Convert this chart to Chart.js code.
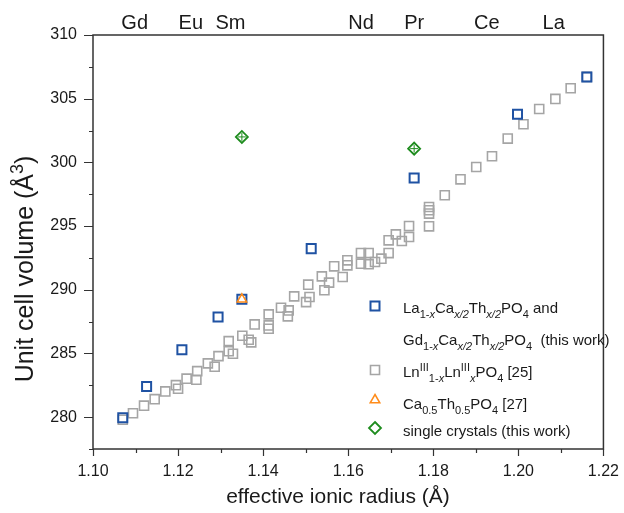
<!DOCTYPE html>
<html>
<head>
<meta charset="utf-8">
<script src="https://cdn.jsdelivr.net/npm/chart.js@4.4.0/dist/chart.umd.min.js"></script>
<style>
  html, body { margin: 0; padding: 0; background: #fff; }
</style>
</head>
<body>
<canvas id="chart" width="624" height="513"></canvas>
<script>
// ---------- Data ----------
// La(1-x)Ca(x/2)Th(x/2)PO4 and Gd(1-x)Ca(x/2)Th(x/2)PO4 (this work)
const blueR = [1.107, 1.1126, 1.1209, 1.1294, 1.135, 1.1513, 1.1755, 1.1998, 1.2161];
const blueV = [279.95, 282.41, 285.29, 287.86, 289.25, 293.23, 298.77, 303.78, 306.71];

// Ln(III)1-x Ln(III)x PO4 [25]
const grayR = [1.107, 1.1094, 1.1120, 1.1145, 1.1170, 1.1195, 1.1200, 1.1220, 1.1243, 1.1245,
  1.1270, 1.1286, 1.1295, 1.1319, 1.1319, 1.1329, 1.1351, 1.1366, 1.1372, 1.1380,
  1.1413, 1.1413, 1.1413, 1.1442, 1.1460, 1.1458, 1.1473, 1.1506, 1.1509, 1.1501,
  1.1538, 1.1555, 1.1544, 1.1567, 1.1587, 1.1598, 1.1598, 1.1630, 1.1630, 1.1648,
  1.1648, 1.1663, 1.1678, 1.1695, 1.1695, 1.1712, 1.1726, 1.1743, 1.1743, 1.1790,
  1.1790, 1.1790, 1.1790, 1.1827, 1.1864, 1.1901, 1.1938, 1.1975, 1.2012, 1.2049,
  1.2087, 1.2123, 1.2161];
const grayV = [279.8, 280.31, 280.9, 281.41, 282.02, 282.51, 282.23, 283.02, 282.94, 283.61,
  284.22, 283.96, 284.79, 285.97, 285.18, 284.98, 286.39, 286.08, 285.87, 287.28,
  288.07, 287.20, 286.94, 288.59, 288.38, 287.91, 289.48, 290.40, 289.43, 289.03,
  291.05, 290.56, 289.96, 291.84, 291.0, 292.31, 291.92, 292.88, 292.05, 292.88,
  292.0, 292.18, 292.44, 292.88, 293.88, 294.35, 293.83, 294.14, 295.0, 294.98,
  295.98, 296.24, 296.5, 297.42, 298.67, 299.64, 300.48, 301.87, 302.99, 304.19,
  304.98, 305.82, 306.71];

// Ca0.5Th0.5PO4 [27]
const orangeR = [1.135];
const orangeV = [289.25];

// single crystals (this work)
const greenR = [1.135, 1.1755];
const greenV = [302.0, 301.08];

// element labels along the top
const elementNames = ['Gd', 'Eu', 'Sm', 'Nd', 'Pr', 'Ce', 'La'];
const elementPos = [1.1098, 1.1230, 1.1323, 1.1630, 1.1755, 1.1926, 1.2083];

// ---------- Style ----------
const FONT = '"Liberation Sans", Arial, sans-serif';
const AXIS = '#333';
const BLUE = '#1f52a3';
const GRAY = '#a5a5a5';
const ORANGE = '#ff8c1a';
const GREEN = '#1e8c1e';

const pts = (xs, ys) => xs.map((x, i) => ({ x, y: ys[i] }));

// ---------- Rich text (sub / superscripts) ----------
function setFont(ctx, size, italic) {
  ctx.font = (italic ? 'italic ' : '') + size + 'px ' + FONT;
}
function richWidth(ctx, parts, size) {
  let w = 0;
  for (const p of parts) {
    setFont(ctx, p.s === 'n' ? size : Math.round(size * 0.7), p.i);
    w += ctx.measureText(p.t).width;
  }
  return w;
}
function drawRich(ctx, parts, x, y, size) {
  ctx.textBaseline = 'alphabetic';
  ctx.textAlign = 'left';
  for (const p of parts) {
    const small = p.s !== 'n';
    setFont(ctx, small ? Math.round(size * 0.7) : size, p.i);
    let dy = 0;
    if (p.s === 'sub') dy = size * 0.3;
    if (p.s === 'sup') dy = -size * 0.42;
    ctx.fillText(p.t, x, y + dy);
    x += ctx.measureText(p.t).width;
  }
}
const N = t => ({ t, s: 'n' });
const SB = (t, i) => ({ t, s: 'sub', i: !!i });
const SP = t => ({ t, s: 'sup' });

const legendRows = [
  { marker: 'blue', my: 306, by: 313,
    parts: [N('La'), SB('1-'), SB('x', 1), N('Ca'), SB('x/2', 1), N('Th'), SB('x/2', 1), N('PO'), SB('4'), N(' and')] },
  { marker: null, my: 338, by: 345,
    parts: [N('Gd'), SB('1-'), SB('x', 1), N('Ca'), SB('x/2', 1), N('Th'), SB('x/2', 1), N('PO'), SB('4'), N('  (this work)')] },
  { marker: 'gray', my: 370, by: 377,
    parts: [N('Ln'), SP('III'), SB('1-'), SB('x', 1), N('Ln'), SP('III'), SB('x', 1), N('PO'), SB('4'), N(' [25]')] },
  { marker: 'orange', my: 400, by: 409,
    parts: [N('Ca'), SB('0.5'), N('Th'), SB('0.5'), N('PO'), SB('4'), N(' [27]')] },
  { marker: 'green', my: 428, by: 436,
    parts: [N('single crystals (this work)')] }
];

function drawMarker(ctx, kind, x, y) {
  ctx.save();
  ctx.beginPath();
  if (kind === 'blue' || kind === 'gray') {
    ctx.strokeStyle = kind === 'blue' ? BLUE : GRAY;
    ctx.lineWidth = kind === 'blue' ? 2 : 1.6;
    ctx.rect(x - 4.5, y - 4.5, 9, 9);
  } else if (kind === 'orange') {
    ctx.strokeStyle = ORANGE;
    ctx.lineWidth = 1.5;
    ctx.moveTo(x, y - 5.5);
    ctx.lineTo(x + 4.8, y + 2.8);
    ctx.lineTo(x - 4.8, y + 2.8);
    ctx.closePath();
  } else if (kind === 'green') {
    ctx.strokeStyle = GREEN;
    ctx.lineWidth = 1.8;
    ctx.moveTo(x, y - 6);
    ctx.lineTo(x + 6, y);
    ctx.lineTo(x, y + 6);
    ctx.lineTo(x - 6, y);
    ctx.closePath();
  }
  ctx.stroke();
  ctx.restore();
}

// ---------- Plugin: frame, ticks, titles, legend ----------
const decorations = {
  id: 'decorations',
  afterDraw(chart) {
    const { ctx, chartArea: a, scales: { x, y } } = chart;
    ctx.save();
    ctx.strokeStyle = AXIS;
    ctx.lineWidth = 1.5;
    ctx.strokeRect(a.left, a.top, a.right - a.left, a.bottom - a.top);

    // tick marks (outside, bottom and left)
    ctx.lineWidth = 1.2;
    ctx.beginPath();
    for (let k = 0; k <= 12; k++) {
      const px = Math.round(x.getPixelForValue(1.10 + k * 0.01)) + 0.5;
      const len = k % 2 === 0 ? 7 : 4;
      ctx.moveTo(px, a.bottom);
      ctx.lineTo(px, a.bottom + len);
    }
    for (let k = 0; k <= 13; k++) {
      const py = Math.round(y.getPixelForValue(277.5 + k * 2.5)) + 0.5;
      const len = k % 2 === 1 ? 9 : 4;
      ctx.moveTo(a.left, py);
      ctx.lineTo(a.left - len, py);
    }
    ctx.stroke();

    ctx.fillStyle = '#1a1a1a';

    // element labels along the top
    ctx.font = '20px ' + FONT;
    ctx.textAlign = 'center';
    ctx.textBaseline = 'middle';
    elementNames.forEach((n, i) => {
      ctx.fillText(n, x.getPixelForValue(elementPos[i]), 23);
    });

    // x title
    ctx.font = '21px ' + FONT;
    ctx.textAlign = 'center';
    ctx.textBaseline = 'middle';
    ctx.fillText('effective ionic radius (Å)', 338, 497);

    // y title (rotated, with superscript)
    const ySize = 25;
    const yParts = [N('Unit cell volume (Å'), SP('3'), N(')')];
    const yw = richWidth(ctx, yParts, ySize);
    ctx.save();
    ctx.translate(33, 269);
    ctx.rotate(-Math.PI / 2);
    drawRich(ctx, yParts, -yw / 2, 0, ySize);
    ctx.restore();

    // legend
    ctx.fillStyle = '#1a1a1a';
    legendRows.forEach(r => {
      if (r.marker) drawMarker(ctx, r.marker, 375, r.my);
      drawRich(ctx, r.parts, 403, r.by, 15);
    });
    ctx.restore();
  }
};

// ---------- Chart ----------
const ctx = document.getElementById('chart').getContext('2d');
const chart = new Chart(ctx, {
  type: 'scatter',
  data: {
    datasets: [
      {
        label: 'single crystals (this work)',
        data: pts(greenR, greenV),
        pointStyle: 'cross', pointRadius: 4, borderWidth: 1,
        borderColor: GREEN, backgroundColor: 'rgba(0,0,0,0)', order: 0
      },
      {
        label: 'single crystals (this work)',
        data: pts(greenR, greenV),
        pointStyle: 'rectRot', pointRadius: 6, borderWidth: 1.8,
        borderColor: GREEN, backgroundColor: 'rgba(0,0,0,0)', order: 1
      },
      {
        label: 'Ca0.5Th0.5PO4 [27]',
        data: pts(orangeR, orangeV),
        pointStyle: 'triangle', pointRadius: 5.5, borderWidth: 1.5,
        borderColor: ORANGE, backgroundColor: 'rgba(0,0,0,0)', order: 2
      },
      {
        label: 'La1-xCax/2Thx/2PO4 and Gd1-xCax/2Thx/2PO4 (this work)',
        data: pts(blueR, blueV),
        pointStyle: 'rect', pointRadius: 6.4, borderWidth: 2,
        borderColor: BLUE, backgroundColor: 'rgba(0,0,0,0)', order: 3
      },
      {
        label: 'LnIII1-xLnIIIxPO4 [25]',
        data: pts(grayR, grayV),
        pointStyle: 'rect', pointRadius: 6.4, borderWidth: 1.6,
        borderColor: GRAY, backgroundColor: 'rgba(0,0,0,0)', order: 4
      }
    ]
  },
  options: {
    responsive: false,
    animation: false,
    devicePixelRatio: 1,
    events: [],
    layout: { padding: { top: 35, right: 19, left: 0, bottom: 0 } },
    plugins: {
      legend: { display: false },
      tooltip: { enabled: false }
    },
    scales: {
      x: {
        type: 'linear',
        min: 1.10,
        max: 1.22,
        grid: { display: false },
        border: { display: false },
        afterFit: s => { s.height = 64; },
        ticks: {
          stepSize: 0.01,
          autoSkip: false,
          maxRotation: 0,
          padding: 5,
          color: '#1a1a1a',
          font: { family: FONT, size: 16 },
          callback: v => (Math.round(v * 100) % 2 === 0 ? v.toFixed(2) : '')
        }
      },
      y: {
        min: 277.5,
        max: 310,
        grid: { display: false },
        border: { display: false },
        afterFit: s => { s.width = 93; },
        ticks: {
          stepSize: 2.5,
          autoSkip: false,
          padding: 8,
          color: '#1a1a1a',
          font: { family: FONT, size: 16 },
          callback: v => (Math.abs(v % 5) < 1e-6 ? String(v) : '')
        }
      }
    }
  },
  plugins: [decorations]
});
</script>
</body>
</html>
